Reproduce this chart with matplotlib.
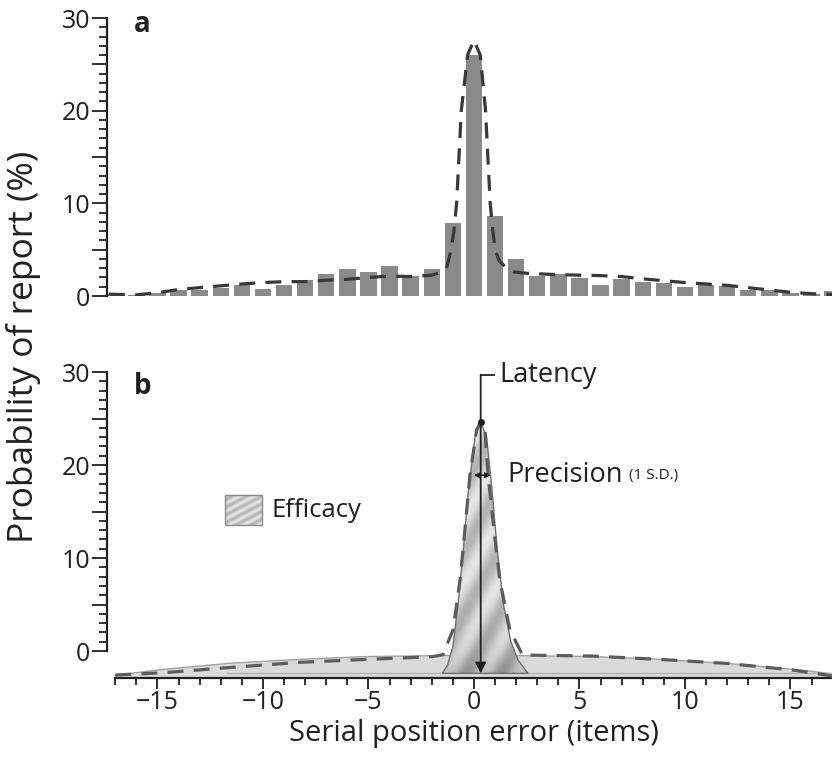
import numpy as np
import matplotlib
matplotlib.use("Agg")
import matplotlib.pyplot as plt
from matplotlib.patches import Polygon, Rectangle
from matplotlib.ticker import FixedLocator, FuncFormatter

plt.rcParams['font.family'] = ['Open Sans', 'DejaVu Sans']
plt.rcParams['axes.unicode_minus'] = True

INK = '#231f20'

# panel a: observed serial position errors
err_pos = np.arange(-17, 18)
report_pct = [0.2, 0.15, 0.3, 0.6, 0.65, 0.9, 1.2, 0.75, 1.15, 1.7,
              2.4, 2.9, 2.6, 3.2, 2.15, 2.9, 7.9, 26.0, 8.6, 4.0,
              2.2, 2.4, 1.9, 1.2, 1.8, 1.5, 1.45, 0.95, 1.2, 1.1,
              0.7, 0.65, 0.3, 0.2, 0.55]

# panel a: model fit
fit_x = [-17.3, -16, -15, -14, -13, -12, -11, -10, -9, -8,
         -7, -6, -5, -4, -3, -2, -1.5, -1.3, -1.1, -0.95,
         -0.82, -0.6, -0.3, 0, 0.3, 0.55, 0.77, 0.9, 1.0, 1.2,
         1.55, 1.9, 2.5, 3, 4, 5, 6, 7, 8, 9,
         10, 11, 12, 13, 14, 15, 16, 17]
fit_y = [0.2, 0.12, 0.35, 0.7, 0.9, 1.1, 1.3, 1.45, 1.55, 1.55,
         1.7, 1.8, 2.0, 2.15, 2.1, 2.25, 2.6, 3.0, 4.8, 7.0,
         10, 20, 26, 27.6, 26, 20, 10, 7, 5, 3.8,
         3.0, 2.6, 2.45, 2.4, 2.3, 2.25, 2.2, 2.1, 1.85, 1.65,
         1.45, 1.3, 1.15, 0.9, 0.65, 0.4, 0.25, 0.15]

# panel b: broad (guessing) component
broad_x = [-17, -14.7, -11.5, -8.3, -5.1, -2.0, 0.3, 2.2, 5.7, 8.9, 12.1, 15.3, 17]
broad_y = [-2.6, -1.97, -1.3, -0.9, -0.6, -0.5, -0.45, -0.5, -0.6, -0.9, -1.35, -2.0, -2.45]

# panel b: narrow component
narrow_x = [-1.5, -1.25, -1.0, -0.75, -0.5, -0.25, 0.05, 0.32, 0.6, 0.85, 1.1, 1.4, 1.75, 2.1, 2.56]
narrow_y = [-2.4, -1.5, 0.5, 5, 11, 17.5, 23, 24.6, 23, 17.5, 11, 5, 1, -1.0, -2.4]

# panel b: combined model
sum_x = [-17, -14.7, -11.5, -8.3, -5.1, -2.0, -1.47, -0.99, -0.66, -0.43, -0.19, 0.13,
         0.32, 0.52, 0.67, 0.95, 1.23, 1.7, 2.3, 5.6, 8.8, 12.0, 15.1, 16.7, 17]
sum_y = [-2.58, -2.33, -1.76, -1.22, -0.9, -0.61, -0.4, 2.3, 7.6, 13.0, 18.9, 23.8,
         24.6, 23.8, 18.9, 13.0, 7.6, 2.3, -0.43, -0.54, -0.9, -1.33, -2.04, -2.58, -2.7]

latency_x = 0.32
peak_y = 24.6
sd_lo, sd_hi, sd_y = 0.0, 0.8, 18.9
base_y = -2.4


def stripes(n=200, shade=True):
    # brushed-metal look: diagonal light bands, darker toward the base
    gx, gy = np.meshgrid(np.linspace(0, 1, n), np.linspace(0, 1, n))
    t = 0.8 + 0.1 * np.sin(2 * np.pi * (gx * 2.5 - gy * 4.0))
    if shade:
        t = t - 0.14 * (1 - gy) ** 8
    return t


def style_y(ax):
    ax.yaxis.set_major_locator(FixedLocator(range(0, 31, 5)))
    ax.yaxis.set_minor_locator(FixedLocator(range(0, 31)))
    ax.yaxis.set_major_formatter(FuncFormatter(lambda v, p: f"{int(v)}" if v % 10 == 0 else ""))
    ax.tick_params(axis='y', which='major', length=8, width=1.3, color=INK,
                   labelsize=18, labelcolor=INK, pad=4)
    ax.tick_params(axis='y', which='minor', length=5.5, width=1.3, color=INK)
    for t in ax.yaxis.get_major_ticks():
        if t.get_loc() % 10 == 0:
            t.tick1line.set_markersize(10.5)
    ax.spines['left'].set_bounds(0, 30)
    ax.spines['left'].set_linewidth(1.6)
    ax.spines['left'].set_color(INK)
    ax.spines['top'].set_visible(False)
    ax.spines['right'].set_visible(False)


fig = plt.figure(figsize=(8.32, 7.6), dpi=100)
ax_a = fig.add_axes([107 / 832, 1 - 296 / 760, 725 / 832, 278 / 760])
ax_b = fig.add_axes([107 / 832, 1 - 678 / 760, 725 / 832, 306 / 760], sharex=ax_a)

# ---- a ----
ax_a.bar(err_pos, report_pct, width=0.78, color='#8a8a8a', zorder=2)
ax_a.plot(fit_x, fit_y, color='#383838', lw=2.3, ls=(0, (5, 3.2)), zorder=3)
ax_a.set_ylim(0, 30)
ax_a.spines['bottom'].set_visible(False)
ax_a.tick_params(axis='x', which='both', bottom=False, labelbottom=False)
style_y(ax_a)
ax_a.text(-16.1, 29.3, 'a', fontsize=20, fontweight='bold', color=INK, va='center')

# ---- b ----
ax_b.fill_between(broad_x, base_y - 0.35, broad_y, color='#dadada', lw=0, zorder=1)
ax_b.plot(broad_x, broad_y, color='#a0a0a0', lw=1.0, zorder=2)
ax_b.plot([-11.7, 17], [base_y, base_y], color='#b4b4b4', lw=1.0, zorder=2)

peak = Polygon(list(zip(narrow_x, narrow_y)), closed=True, facecolor='none',
               edgecolor='#707070', lw=1.0, zorder=4)
ax_b.add_patch(peak)
img = ax_b.imshow(stripes(), extent=(-1.6, 2.6, base_y, 25), origin='lower', cmap='gray',
                  vmin=0, vmax=1, aspect='auto', zorder=3)
img.set_clip_path(peak)

ax_b.plot(sum_x, sum_y, color='#5c5c5c', lw=2.3, ls=(0, (5, 3.2)), zorder=5)

# latency marker
ax_b.annotate('', xy=(latency_x, base_y), xytext=(latency_x, 29.7),
              arrowprops=dict(arrowstyle='-|>', color=INK, lw=1.3, mutation_scale=16,
                              shrinkA=0, shrinkB=0), zorder=6)
ax_b.plot([latency_x, 0.95], [29.7, 29.7], color=INK, lw=1.3, zorder=6)
ax_b.plot(latency_x, peak_y, 'o', color=INK, ms=4, zorder=6)
ax_b.text(1.2, 29.7, 'Latency', fontsize=19.5, color=INK, va='center', ha='left')

# precision marker
ax_b.annotate('', xy=(sd_lo, sd_y), xytext=(sd_hi, sd_y),
              arrowprops=dict(arrowstyle='<|-|>', color=INK, lw=1.1, mutation_scale=8,
                              shrinkA=0, shrinkB=0), zorder=6)
prec = ax_b.text(1.6, sd_y, 'Precision', fontsize=19.5, color=INK, va='center', ha='left')
ax_b.annotate('(1 S.D.)', xy=(1, 0.22), xycoords=prec, xytext=(4, 0),
              textcoords='offset points', fontsize=11, color=INK, va='bottom', ha='left')

# efficacy key
key = Rectangle((-11.8, 13.5), 1.75, 3.3, facecolor='none', edgecolor='#8a8a8a', lw=1.0, zorder=4)
ax_b.add_patch(key)
kimg = ax_b.imshow(stripes(shade=False), extent=(-11.8, -10.05, 13.5, 16.8), origin='lower',
                   cmap='gray', vmin=0, vmax=1, aspect='auto', zorder=3)
kimg.set_clip_path(key)
ax_b.text(-9.6, 15.1, 'Efficacy', fontsize=18.5, color=INK, va='center', ha='left')

ax_b.text(-16.1, 28.4, 'b', fontsize=20, fontweight='bold', color=INK, va='center')

ax_b.set_ylim(-2.9, 30)
ax_b.set_xlim(-17.39, 16.97)
style_y(ax_b)
ax_b.spines['bottom'].set_bounds(-17, 17)
ax_b.spines['bottom'].set_linewidth(1.6)
ax_b.spines['bottom'].set_color(INK)
ax_b.xaxis.set_major_locator(FixedLocator(range(-15, 16, 5)))
ax_b.xaxis.set_minor_locator(FixedLocator(range(-17, 18)))
ax_b.xaxis.set_major_formatter(FuncFormatter(lambda v, p: f"{int(v)}".replace('-', '\u2212')))
ax_b.tick_params(axis='x', which='major', length=8, width=1.3, color=INK,
                 labelsize=18, labelcolor=INK, pad=0.5)
ax_b.tick_params(axis='x', which='minor', length=5, width=1.3, color=INK)

fig.text(24 / 832, 1 - 347 / 760, 'Probability of report (%)', rotation=90,
         fontsize=25.5, color=INK, ha='center', va='center')
fig.text(474 / 832, 1 - 734 / 760, 'Serial position error (items)',
         fontsize=21, color=INK, ha='center', va='center')

fig.savefig('out.png', dpi=100)
